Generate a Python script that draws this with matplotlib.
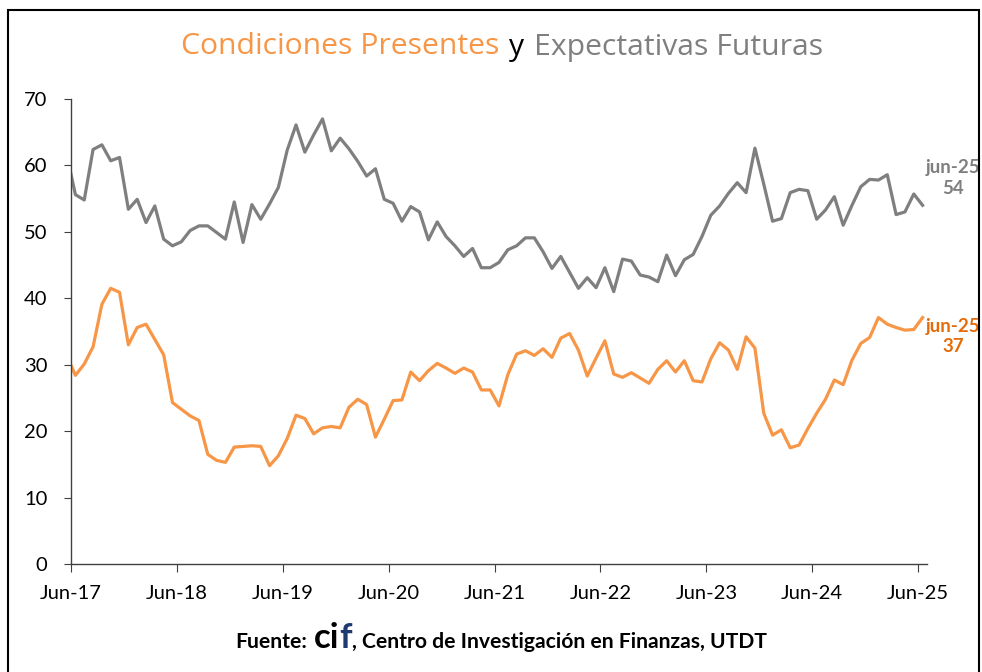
import numpy as np
import pandas as pd
import matplotlib
matplotlib.use("Agg")
import matplotlib.pyplot as plt
from matplotlib import font_manager
from matplotlib.offsetbox import TextArea, HPacker, AnchoredOffsetbox
from matplotlib.patches import Rectangle

# ---------------- data ----------------
start_month = "2017-05"   # first (partly hidden) observation
presentes = [31.4,
    28.4, 30.1, 32.7, 39.1, 41.5, 40.9, 33.0, 35.6, 36.1, 33.8, 31.5, 24.3,
    23.3, 22.3, 21.6, 16.5, 15.6, 15.3, 17.6, 17.7, 17.8, 17.7, 14.8, 16.3,
    18.9, 22.4, 21.9, 19.6, 20.5, 20.7, 20.5, 23.6, 24.8, 24.0, 19.1, 21.8,
    24.6, 24.7, 28.9, 27.6, 29.1, 30.2, 29.5, 28.7, 29.5, 28.9, 26.2, 26.2,
    23.8, 28.5, 31.6, 32.1, 31.4, 32.4, 31.1, 34.0, 34.7, 32.2, 28.3, 31.0,
    33.6, 28.6, 28.1, 28.8, 28.0, 27.2, 29.3, 30.6, 28.9, 30.6, 27.6, 27.4,
    30.9, 33.3, 32.2, 29.3, 34.2, 32.5, 22.7, 19.4, 20.2, 17.5, 17.9, 20.4,
    22.7, 24.8, 27.7, 27.0, 30.7, 33.2, 34.1, 37.1, 36.1, 35.6, 35.2, 35.3,
    37.1]
futuras = [61.7,
    55.6, 54.8, 62.4, 63.1, 60.7, 61.2, 53.4, 54.9, 51.4, 53.9, 48.9, 47.9,
    48.5, 50.2, 50.9, 50.9, 49.9, 48.9, 54.5, 48.4, 54.1, 51.9, 54.2, 56.7,
    62.3, 66.1, 62.0, 64.6, 67.0, 62.2, 64.1, 62.5, 60.6, 58.4, 59.5, 54.9,
    54.3, 51.6, 53.8, 53.0, 48.8, 51.5, 49.3, 47.9, 46.3, 47.5, 44.6, 44.6,
    45.4, 47.3, 47.9, 49.1, 49.1, 47.0, 44.5, 46.3, 43.9, 41.5, 43.1, 41.6,
    44.6, 41.0, 45.9, 45.6, 43.5, 43.2, 42.5, 46.5, 43.4, 45.8, 46.6, 49.3,
    52.5, 53.9, 55.8, 57.4, 55.9, 62.6, 57.2, 51.6, 52.0, 55.9, 56.4, 56.2,
    51.9, 53.3, 55.3, 51.0, 54.0, 56.8, 57.9, 57.8, 58.6, 52.6, 53.0, 55.7,
    54.0]
tick_labels = ["Jun-17", "Jun-18", "Jun-19", "Jun-20", "Jun-21",
               "Jun-22", "Jun-23", "Jun-24", "Jun-25"]
y_ticks = [0, 10, 20, 30, 40, 50, 60, 70]
last_label = "jun-25"

# ---------------- style ----------------
avail = {f.name for f in font_manager.fontManager.ttflist}
FONT = next(f for f in ["Lato", "Open Sans", "DejaVu Sans"] if f in avail)
TFONT = next(f for f in ["Open Sans", "Lato", "DejaVu Sans"] if f in avail)
plt.rcParams["font.family"] = FONT

ORANGE = "#F79646"
ORANGE_D = "#E46C0A"
GRAY = "#7F7F7F"
AXC = "#404040"

dates = pd.date_range(start_month, periods=len(presentes), freq="MS")
base = pd.Timestamp("2017-06-01")
x = np.array([(d.year - base.year) * 12 + d.month - base.month for d in dates]) + 0.5

fig = plt.figure(figsize=(9.82, 6.72), dpi=100)
ax = fig.add_axes([71 / 982, 1 - 564 / 672, (927 - 71) / 982, (564 - 99) / 672])

ax.plot(x, futuras, color=GRAY, lw=2.3, solid_joinstyle="round", clip_on=True)
ax.plot(x, presentes, color=ORANGE, lw=2.3, solid_joinstyle="round", clip_on=True)

ax.set_xlim(0, 97)
ax.set_ylim(0, 70)
ax.set_xticks(np.arange(0, 97, 12))
ax.set_xticklabels(tick_labels)
ax.set_yticks(y_ticks)
for s in ["top", "right"]:
    ax.spines[s].set_visible(False)
for s in ["left", "bottom"]:
    ax.spines[s].set_color(AXC)
    ax.spines[s].set_linewidth(1.0)
ax.tick_params(axis="x", direction="out", length=6, width=0.8, color=AXC,
               labelsize=14.5, pad=9, labelcolor="black")
ax.tick_params(axis="y", direction="out", length=5, width=0.8, color=AXC,
               labelsize=14.5, pad=12, labelcolor="black")

# end labels
ax.annotate(f"{last_label}\n{futuras[-1]:.0f}", xy=(x[-1], futuras[-1]),
            xytext=(22, 19.5), textcoords="offset points", ha="center", va="center",
            color=GRAY, fontsize=13.5, fontweight="bold", linespacing=1.25,
            annotation_clip=False)
ax.annotate(f"{last_label}\n{presentes[-1]:.0f}", xy=(x[-1], presentes[-1]),
            xytext=(22, -13.5), textcoords="offset points", ha="center", va="center",
            color=ORANGE_D, fontsize=13.5, fontweight="bold", linespacing=1.25,
            annotation_clip=False)

# title
tsz = 21.7
parts = [TextArea("Condiciones Presentes", textprops=dict(color=ORANGE, fontsize=tsz, family=TFONT)),
         TextArea("y", textprops=dict(color="black", fontsize=tsz, family=TFONT)),
         TextArea("Expectativas Futuras", textprops=dict(color=GRAY, fontsize=tsz, family=TFONT))]
title = HPacker(children=parts, align="baseline", pad=0, sep=7)
fig.add_artist(AnchoredOffsetbox(loc="center", child=title, frameon=False, pad=0,
                                 bbox_to_anchor=(502 / 982, 1 - 47 / 672),
                                 bbox_transform=fig.transFigure, borderpad=0))

# source
ssz = 15.2
sparts = [TextArea("Fuente:", textprops=dict(color="black", fontsize=ssz, fontweight="bold")),
          HPacker(children=[TextArea("ci", textprops=dict(color="black", fontsize=25, fontweight="bold")),
                            TextArea("f", textprops=dict(color="#1F3A6E", fontsize=25, fontweight="bold"))],
                  align="baseline", pad=0, sep=0),
          TextArea(", Centro de Investigación en Finanzas, UTDT",
                   textprops=dict(color="black", fontsize=ssz, fontweight="bold"))]
src_box = HPacker(children=[sparts[0], HPacker(children=sparts[1:], align="baseline", pad=0, sep=0)],
                  align="baseline", pad=0, sep=5)
fig.add_artist(AnchoredOffsetbox(loc="center", child=src_box, frameon=False, pad=0,
                                 bbox_to_anchor=(501 / 982, 1 - 638 / 672),
                                 bbox_transform=fig.transFigure, borderpad=0))

# outer frame
fig.add_artist(Rectangle((8 / 982, -0.05), (979 - 8) / 982, 1.05 - 10 / 672,
                         transform=fig.transFigure, fill=False, edgecolor="black",
                         linewidth=1.5, clip_on=False))

fig.savefig("out.png", dpi=100)
